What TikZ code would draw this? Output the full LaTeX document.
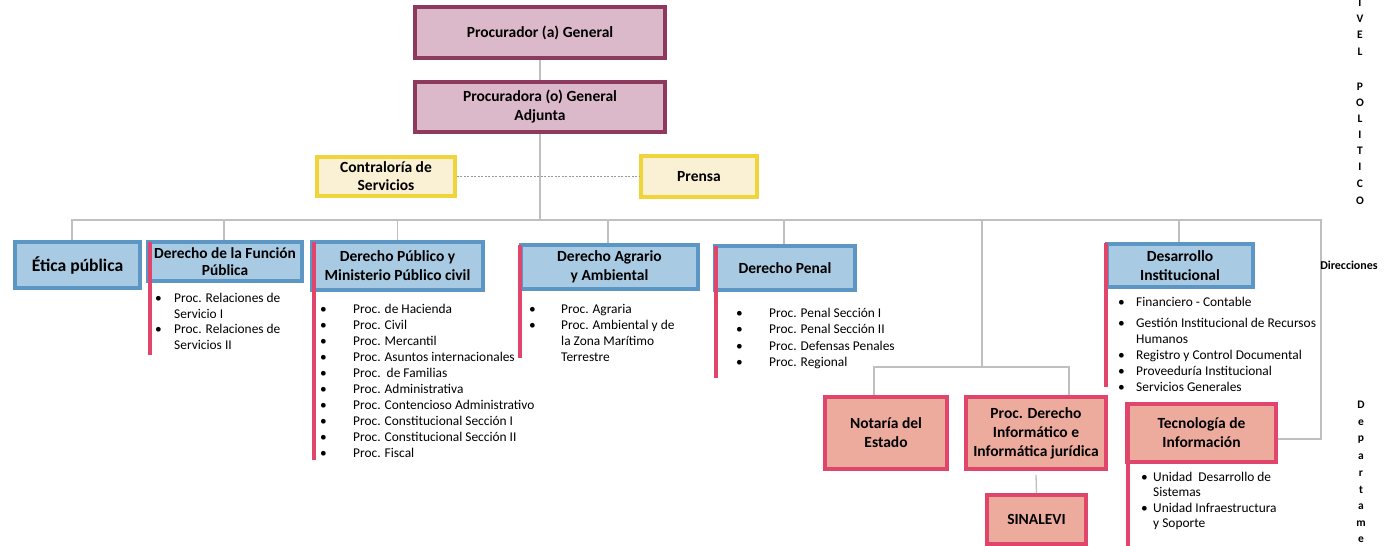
\documentclass[tikz,border=0pt]{standalone}
\usepackage{fontspec}
\setmainfont{Carlito}
\definecolor{topB}{HTML}{8E3A5E}
\definecolor{topF}{HTML}{DCB9CA}
\definecolor{yelB}{HTML}{F0D53A}
\definecolor{yelF}{HTML}{FAF0D4}
\definecolor{bluB}{HTML}{5C96C5}
\definecolor{bluF}{HTML}{A8CAE2}
\definecolor{redB}{HTML}{E0456B}
\definecolor{pinkF}{HTML}{EDAB9D}
\definecolor{conn}{HTML}{BFBFBF}
\newcommand{\bul}[1]{\makebox[#1][l]{\textbullet}}
\newcommand{\ind}[1]{\hspace*{#1}}
\begin{document}
\begin{tikzpicture}[x=1pt,y=-1pt,
  box/.style={rectangle, inner sep=0pt, align=center, text=black,
    font=\bfseries\fontsize{15.5}{19}\selectfont},
  topbox/.style={box, draw=topB, fill=topF, line width=3.5pt},
  yelbox/.style={box, draw=yelB, fill=yelF, line width=3.5pt, font=\bfseries\fontsize{15.5}{18}\selectfont},
  blubox/.style={box, draw=bluB, fill=bluF, line width=4pt},
  pinkbox/.style={box, draw=redB, fill=pinkF, line width=4pt},
  redbar/.style={draw=redB, line width=4pt},
  conline/.style={draw=conn, line width=1.3pt},
  dashline/.style={draw=gray!80, line width=0.8pt, dash pattern=on 2pt off 1.5pt},
  blist/.style={anchor=north west, inner sep=0pt, align=left, text=black,
    font=\fontsize{13.4}{16}\selectfont},
  vlet/.style={inner sep=0pt, font=\bfseries\fontsize{11.5}{13}\selectfont},
]
\useasboundingbox (0,0) rectangle (1392,546);

% top level
\node[topbox, minimum width=250pt, minimum height=51pt] (pg) at (540,32.5) {Procurador (a) General};
\node[topbox, minimum width=250pt, minimum height=50pt] (pga) at (540,107) {Procuradora (o) General\\Adjunta};
\node[yelbox, minimum width=138pt, minimum height=39pt] (contra) at (386,176.5) {Contraloría de\\Servicios};
\node[yelbox, minimum width=116pt, minimum height=41pt] (prensa) at (699,176.5) {Prensa};

% direcciones
\node[blubox, minimum width=125pt, minimum height=46pt, font=\bfseries\fontsize{17.6}{20}\selectfont] (etica) at (77.5,265) {Ética pública};
\node[blubox, minimum width=154pt, minimum height=39pt, font=\bfseries\fontsize{15.4}{17.5}\selectfont] (func) at (225,261.5) {Derecho de la Función\\Pública};
\node[blubox, minimum width=171pt, minimum height=48pt] (publ) at (397.5,266) {Derecho Público y\\Ministerio Público civil};
\node[blubox, minimum width=177pt, minimum height=44pt] (agra) at (609.5,267) {Derecho Agrario\\y Ambiental};
\node[blubox, minimum width=140pt, minimum height=44pt] (penal) at (785,268) {Derecho Penal};
\node[blubox, minimum width=146pt, minimum height=43pt] (desa) at (1180,265.5) {Desarrollo\\Institucional};

% departamentos
\node[pinkbox, minimum width=122pt, minimum height=72pt] (nota) at (886,433) {Notaría del\\Estado};
\node[pinkbox, minimum width=140pt, minimum height=72pt] (pinf) at (1036,433) {Proc. Derecho\\Informático e\\Informática jurídica};
\node[pinkbox, minimum width=99pt, minimum height=49pt] (sina) at (1036.5,519.5) {SINALEVI};
\node[pinkbox, minimum width=149pt, minimum height=58pt] (tec) at (1201.5,433) {Tecnología de\\Información};

% connectors
\coordinate (hub) at (540,220);
\coordinate (hR) at (1321,220);
\coordinate (hub2) at (982,367);
\draw[conline] (pg) -- (pga);
\draw[conline] (pga) -- (hub);
\draw[conline] ([xshift=-5.5pt]etica.north) |- (hR) |- ([yshift=-6pt]tec.east);
\draw[conline] ([xshift=-1pt]func.north) -- ([xshift=-1pt]func.north |- hub);
\draw[conline] (publ.north) -- (publ.north |- hub);
\draw[conline] ([xshift=-1.5pt]agra.north) -- ([xshift=-1.5pt]agra.north |- hub);
\draw[conline] ([xshift=-1pt]penal.north) -- ([xshift=-1pt]penal.north |- hub);
\draw[conline] ([xshift=-1pt]desa.north) -- ([xshift=-1pt]desa.north |- hub);
\draw[conline] (hub2 |- hub) -- (hub2);
\draw[conline] ([xshift=-12pt]nota.north) |- (hub2) -| ([xshift=33pt]pinf.north);
\draw[conline] ([yshift=-4pt]pinf.south) -- (sina.north);
\draw[dashline] (contra.east) -- (prensa.west);

% red bars
\draw[redbar] (150,242) -- (150,355);
\draw[redbar] (314,242) -- (314,460);
\draw[redbar] (520,245) -- (520,358);
\draw[redbar] (716,246) -- (716,378);
\draw[redbar] (1106,243) -- (1106,387);
\draw[redbar] (1128,403) -- (1128,546);

% lists
\node[blist, font=\fontsize{13.4}{15.7}\selectfont] (lfunc) at (155,293)
  {\bul{19pt}Proc. Relaciones de\\ \ind{19pt}Servicio I\\ \bul{19pt}Proc. Relaciones de\\ \ind{19pt}Servicios II};
\node[blist] (lpubl) at (320,304)
  {\bul{33pt}Proc. de Hacienda\\ \bul{33pt}Proc. Civil\\ \bul{33pt}Proc. Mercantil\\ \bul{33pt}Proc. Asuntos internacionales\\
   \bul{33pt}Proc.\ \ de Familias\\ \bul{33pt}Proc. Administrativa\\ \bul{33pt}Proc. Contencioso Administrativo\\
   \bul{33pt}Proc. Constitucional Sección I\\ \bul{33pt}Proc. Constitucional Sección II\\ \bul{33pt}Proc. Fiscal};
\node[blist] (lagra) at (529,304)
  {\bul{32pt}Proc. Agraria\\ \bul{32pt}Proc. Ambiental y de\\ \ind{32pt}la Zona Marítimo\\ \ind{32pt}Terrestre};
\node[blist, font=\fontsize{13.4}{16.3}\selectfont] (lpenal) at (736,308)
  {\bul{33pt}Proc. Penal Sección I\\ \bul{33pt}Proc. Penal Sección II\\ \bul{33pt}Proc. Defensas Penales\\ \bul{33pt}Proc. Regional};
\node[blist] (ldesa) at (1118,297)
  {\bul{18pt}Financiero - Contable\\[5pt] \bul{18pt}Gestión Institucional de Recursos\\ \ind{18pt}Humanos\\
   \bul{18pt}Registro y Control Documental\\ \bul{18pt}Proveeduría Institucional\\ \bul{18pt}Servicios Generales};
\node[blist, font=\fontsize{13.4}{15.3}\selectfont] (ltec) at (1141,472)
  {\bul{12pt}Unidad\ \ Desarrollo de\\ \ind{12pt}Sistemas\\ \bul{12pt}Unidad Infraestructura\\ \ind{12pt}y Soporte};

% right side labels
\foreach \ch/\yy [count=\i] in {I/3,V/19,E/35,L/52,P/87,O/103,L/119,I/135,T/151,I/167,C/184,O/201}
  \node[vlet] (nv\i) at (1360,\yy) {\ch};
\node[inner sep=0pt, font=\bfseries\fontsize{12}{14}\selectfont] (dir) at (1349,265) {Direcciones};
\foreach \ch/\yy [count=\i] in {D/405,e/423,p/440,a/457,r/474,t/490,a/507,m/524,e/540}
  \node[vlet] (dp\i) at (1361,\yy) {\ch};
\end{tikzpicture}
\end{document}
